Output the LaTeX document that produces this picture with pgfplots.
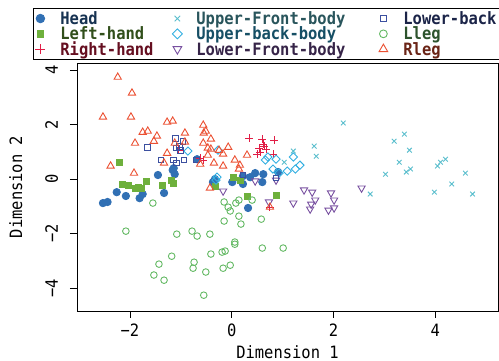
\documentclass[border=0pt]{standalone}
\usepackage{pgfplots}
\pgfplotsset{compat=1.18}
\usepackage{fontspec}
\setmainfont{DejaVu Sans Mono}[FakeStretch=0.91]
\definecolor{headc}{RGB}{49,112,180}
\definecolor{lhc}{RGB}{110,176,60}
\definecolor{rhc}{RGB}{225,30,70}
\definecolor{ufc}{RGB}{90,190,205}
\definecolor{ubc}{RGB}{50,175,225}
\definecolor{lfc}{RGB}{120,80,160}
\definecolor{lbc}{RGB}{60,80,160}
\definecolor{llc}{RGB}{100,185,100}
\definecolor{rlc}{RGB}{235,80,50}
\newcommand\lfont{\fontsize{17}{17}\selectfont}
\newcommand\LA[2]{\makebox[123pt][l]{\hspace*{13pt}\textcolor{#1!45!black}{\bfseries #2}}}
\newcommand\LB[2]{\makebox[192pt][l]{\hspace*{12pt}\textcolor{#1!45!black}{\bfseries #2}}}
\newcommand\LC[2]{\makebox[120pt][l]{\hspace*{13pt}\textcolor{#1!45!black}{\bfseries #2}}}
\pgfplotsset{
  limg/.style={legend image code/.code={\path[draw=none,fill=none] (-7pt,-5pt) rectangle (7pt,5pt); \draw[##1] plot coordinates {(0pt,0pt)};}},
  sHead/.style={only marks, mark=*, mark size=3.7pt, draw=headc, fill=headc, line width=0.8pt},
  sLH/.style={only marks, mark=square*, mark size=3.0pt, draw=lhc, fill=lhc, line width=0.8pt},
  sRH/.style={only marks, mark=+, mark size=4pt, draw=rhc, line width=0.9pt},
  sUF/.style={only marks, mark=x, mark size=3.3pt, draw=ufc, line width=0.9pt},
  sUB/.style={only marks, mark=square, mark size=2.9pt, mark options={rotate=45}, draw=ubc, line width=0.9pt},
  sLF/.style={only marks, mark=triangle, mark size=4.2pt, mark options={rotate=180}, draw=lfc, line width=0.9pt},
  sLB/.style={only marks, mark=square, mark size=2.9pt, draw=lbc, line width=0.9pt},
  sLL/.style={only marks, mark=o, mark size=3.3pt, draw=llc, line width=0.9pt},
  sRL/.style={only marks, mark=triangle, mark size=4.2pt, draw=rlc, line width=0.9pt},
}
\begin{document}
\begin{tikzpicture}
\path[use as bounding box] (-77pt,-50pt) rectangle (422pt,311pt);
\begin{axis}[
  at={(0pt,0pt)}, anchor=south west,
  scale only axis, width=421pt, height=248pt,
  xmin=-3.04, xmax=5.23, ymin=-4.84, ymax=4.26,
  xtick={-2,0,2,4}, xticklabels={−2,0,2,4},
  ytick={-4,-2,0,2,4}, yticklabels={−4,−2,0,2,4},
  tick pos=left, tick align=outside, major tick length=7pt,
  tick style={black, line width=0.8pt},
  axis line style={black, line width=0.8pt},
  every tick label/.append style={font=\lfont, inner sep=0pt, text height=12.3pt, text depth=0pt},
  xticklabel style={anchor=north},
  yticklabel style={rotate=90, anchor=south},
  xticklabel shift=6pt,
  yticklabel shift=12pt,
  xlabel={Dimension 1}, ylabel={Dimension 2},
  xlabel style={at={(axis description cs:0.5,-0.1653)}, anchor=center, font=\lfont, inner sep=0pt, text height=12.3pt, text depth=0pt},
  ylabel style={at={(axis description cs:-0.1449,0.5)}, anchor=center, font=\lfont, inner sep=0pt, text height=12.3pt, text depth=0pt},
  legend columns=3,
  legend cell align=left,
  legend style={at={(axis description cs:-0.1045,1.2218)}, anchor=north west, draw=black, line width=0.8pt, fill=white, inner xsep=0pt, inner ysep=2.5pt, row sep=0pt, column sep=0pt, font=\lfont, nodes={inner xsep=0pt, inner ysep=1.5pt, text height=12.3pt, text depth=0pt, anchor=west}},
]
% Head
\addplot[sHead, forget plot] coordinates {
(-2.53,-0.88) (-2.44,-0.84) (-2.26,-0.48) (-2.08,-0.62) (-1.81,-0.70) (-1.75,-0.55)
(-1.33,-0.51) (-1.45,0.15) (-1.16,0.33) (-1.12,0.18) (-1.14,0.40) (-0.68,0.73)
(-0.33,0.00) (-0.37,-0.11) (0.01,-0.11) (0.22,-0.18) (0.22,0.11) (0.36,0.07)
(0.46,0.22) (0.62,0.18) (0.60,-0.11) (0.91,0.26) (0.32,-1.06)};
% Left-hand
\addplot[sLH, forget plot] coordinates {
(-2.20,0.62) (-2.14,-0.18) (-2.04,-0.22) (-1.90,-0.33) (-1.84,-0.29) (-1.77,-0.33)
(-1.67,-0.07) (-1.37,-0.22) (-1.19,-0.04) (-1.14,-0.15) (-0.33,-0.26) (0.03,0.07)
(0.16,-0.04) (0.30,-0.62) (0.87,-0.59)};
% Right-hand
\addplot[sRH, forget plot] coordinates {
(0.34,1.50) (0.60,1.47) (0.83,1.43) (0.64,1.21) (0.54,1.14) (0.68,1.10) (0.56,0.99)
(0.50,0.92) (0.81,0.92) (0.62,1.28) (-0.62,0.77) (-0.56,0.70) (-1.04,1.06) (0.75,-1.03)};
% Upper-Front-body
\addplot[sUF, forget plot] coordinates {
(2.19,2.06) (1.62,1.21) (1.66,0.84) (1.21,1.03) (1.03,0.62) (3.39,1.65) (3.19,1.39)
(3.49,1.06) (3.29,0.62) (3.51,0.37) (3.43,0.26) (3.02,0.18) (4.20,0.73) (4.10,0.62)
(4.04,0.48) (4.59,0.22) (4.32,-0.18) (2.72,-0.55) (3.98,-0.48) (4.73,-0.55)};
% Upper-back-body
\addplot[sUB, forget plot] coordinates {
(-0.86,1.03) (-0.27,1.06) (-0.29,0.07) (-0.31,-0.04) (0.66,0.70) (0.71,0.81) (0.87,0.73)
(1.21,0.81) (1.34,0.51) (1.25,0.37) (1.09,0.29) (0.81,0.37) (0.93,0.22)};
% Lower-Front-body
\addplot[sLF, forget plot] coordinates {
(-0.17,-0.44) (0.46,-0.07) (0.87,-0.04) (1.42,-0.40) (1.58,-0.48) (1.64,-0.77) (1.56,-0.92)
(1.54,-1.10) (1.95,-0.51) (2.01,-0.77) (2.01,-1.06) (1.90,-1.14) (2.55,-0.33) (1.21,-0.88)
(0.73,-0.84)};
% Lower-back
\addplot[sLB, forget plot] coordinates {
(-1.65,1.17) (-1.10,1.50) (-0.96,1.39) (-1.02,1.21) (-1.08,1.14) (-1.00,1.06) (-1.39,0.70)
(-1.14,0.70) (-0.94,0.70) (-1.08,0.59) (-0.70,0.70) (0.22,0.15) (0.87,0.04)};
% Lleg
\addplot[sLL, forget plot] coordinates {
(-1.55,-0.88) (-2.08,-1.91) (-1.08,-2.02) (-0.78,-1.91) (-0.68,-2.09) (-0.43,-2.02)
(-1.18,-2.83) (-0.74,-3.05) (-0.76,-3.27) (-1.43,-3.12) (-1.53,-3.52) (-1.33,-3.71)
(-0.51,-3.41) (-0.41,-2.75) (-0.19,-2.68) (-0.13,-2.64) (-0.17,-3.27) (-0.03,-3.16)
(0.06,-2.31) (0.06,-2.39) (0.60,-2.53) (1.01,-2.53) (-0.55,-4.26) (-0.15,-1.54)
(0.18,-1.65) (0.14,-1.36) (0.58,-1.47) (-0.15,-0.84) (-0.07,-1.03) (-0.03,-1.17)
(0.08,-0.88) (0.14,-0.77) (0.40,-0.77)};
% Rleg
\addplot[sRL, forget plot] coordinates {
(-2.24,3.74) (-1.96,3.16) (-2.53,2.28) (-1.98,2.28) (-1.27,2.09) (-1.16,2.13) (-1.75,1.72)
(-1.65,1.76) (-1.47,1.58) (-1.53,1.39) (-1.90,1.32) (-0.92,1.69) (-0.56,1.98) (-0.55,1.69)
(-0.51,1.76) (-0.41,1.47) (-0.56,1.32) (-1.12,1.32) (-1.27,0.95) (-1.33,0.59) (-0.41,1.10)
(-0.25,1.06) (-0.17,0.92) (-0.07,1.17) (-0.47,0.88) (-0.62,0.55) (-0.35,0.59) (-0.17,0.48)
(0.06,0.70) (0.16,0.51) (0.30,0.88) (-2.38,0.48) (-1.92,0.22) (-0.43,-0.33) (0.75,-1.03)
(0.14,0.37) (-0.92,1.36) (-0.47,1.14)};
% legend (row-major)
\addlegendimage{sHead, mark size=4.3pt, limg}\addlegendentry{\LA{headc}{Head}}
\addlegendimage{sUF, mark size=3.9pt, limg}\addlegendentry{\LB{ufc}{Upper-Front-body}}
\addlegendimage{sLB, mark size=3.3pt, limg}\addlegendentry{\LC{lbc}{Lower-back}}
\addlegendimage{sLH, mark size=3.4pt, limg}\addlegendentry{\LA{lhc}{Left-hand}}
\addlegendimage{sUB, mark size=3.5pt, limg}\addlegendentry{\LB{ubc}{Upper-back-body}}
\addlegendimage{sLL, mark size=3.9pt, limg}\addlegendentry{\LC{llc}{Lleg}}
\addlegendimage{sRH, mark size=5pt, limg}\addlegendentry{\LA{rhc}{Right-hand}}
\addlegendimage{sLF, mark size=5pt, limg}\addlegendentry{\LB{lfc}{Lower-Front-body}}
\addlegendimage{sRL, mark size=5pt, limg}\addlegendentry{\LC{rlc}{Rleg}}
\end{axis}
\end{tikzpicture}
\end{document}
